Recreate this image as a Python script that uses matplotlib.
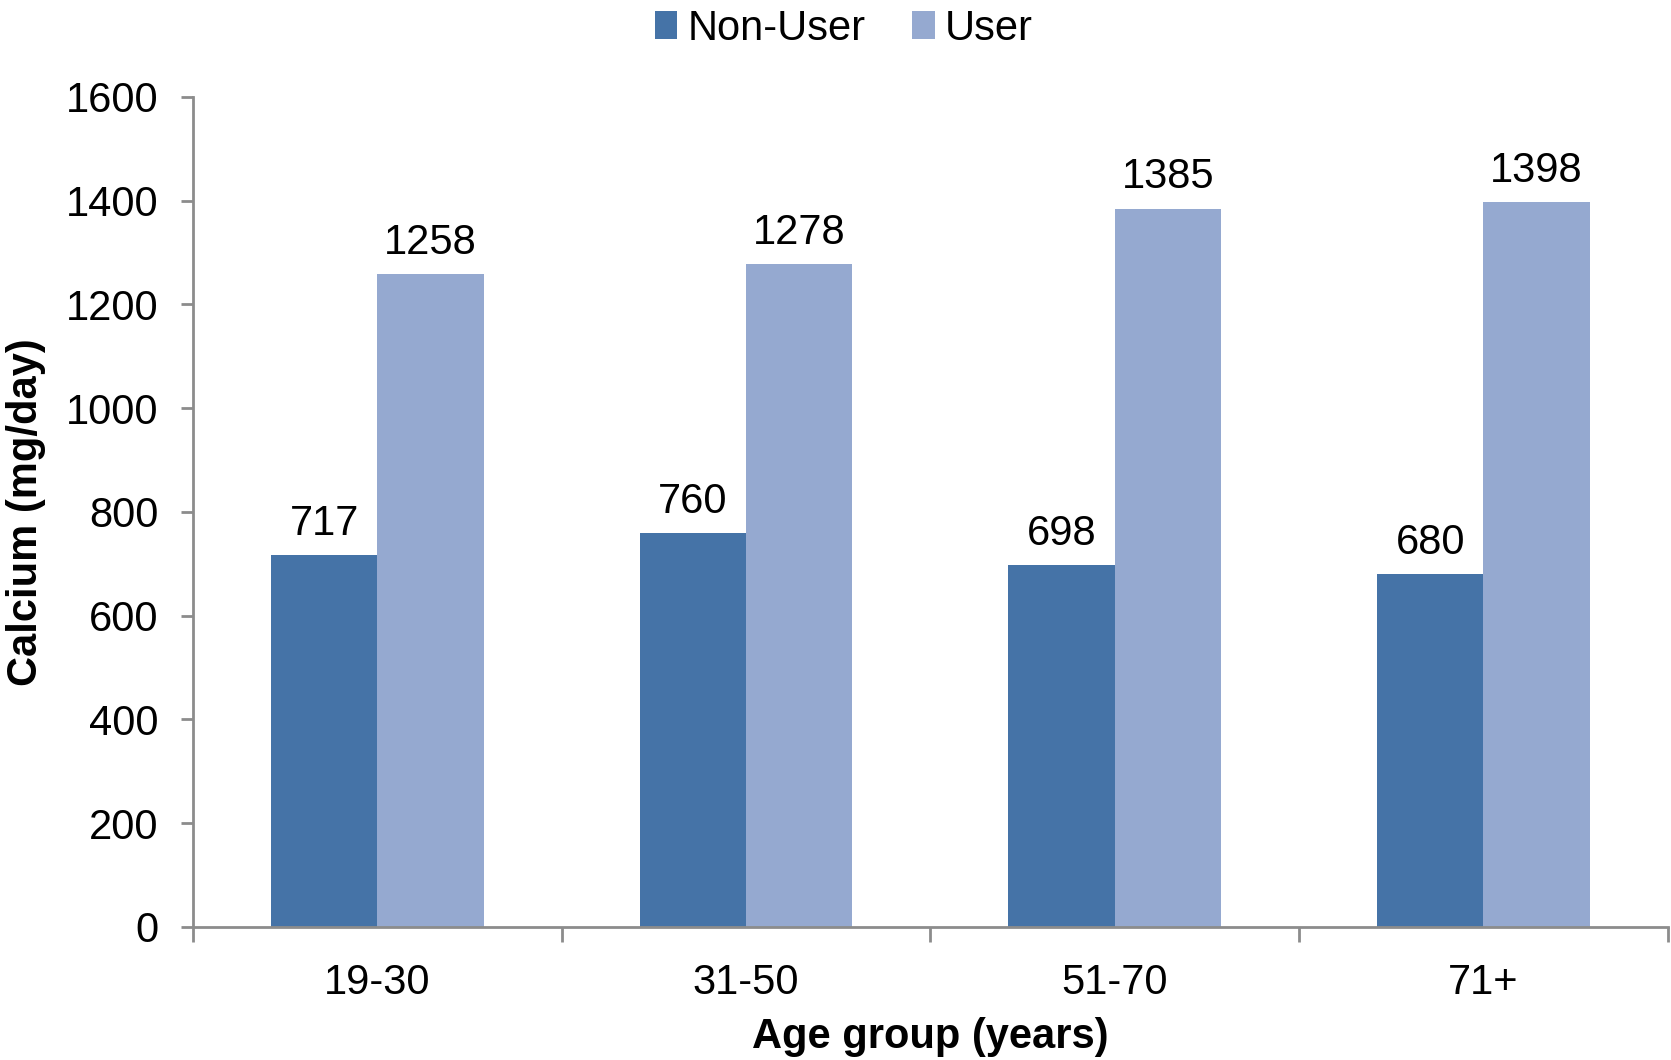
import numpy as np
import matplotlib.pyplot as plt

plt.rcParams['font.family'] = ['Liberation Sans', 'DejaVu Sans']

groups = ['19-30', '31-50', '51-70', '71+']
non_user = [717, 760, 698, 680]
user = [1258, 1278, 1385, 1398]

c_non = '#4573A7'
c_user = '#95A9D0'
grey = '#8C8C8C'
fs = 30

fig = plt.figure(figsize=(16.71, 10.6), dpi=100)
ax = fig.add_axes([0.1155, 0.1255, 0.8825, 0.783])

x = np.arange(len(groups))
w = 0.288
b1 = ax.bar(x - w / 2, non_user, w, color=c_non, label='Non-User')
b2 = ax.bar(x + w / 2, user, w, color=c_user, label='User')

for bars, vals in ((b1, non_user), (b2, user)):
    for bar, v in zip(bars, vals):
        ax.annotate(str(v), (bar.get_x() + bar.get_width() / 2, v),
                    xytext=(0, 8), textcoords='offset points',
                    ha='center', va='bottom', fontsize=fs)

ax.set_xlim(-0.5, 3.5)
ax.set_ylim(0, 1600)
ax.set_yticks(np.arange(0, 1601, 200))
ax.set_xticks(x)
ax.set_xticklabels(groups)
ax.set_xticks(np.arange(-0.5, 3.6, 1), minor=True)

for side in ('top', 'right'):
    ax.spines[side].set_visible(False)
for side in ('left', 'bottom'):
    ax.spines[side].set_color(grey)
    ax.spines[side].set_linewidth(2)

ax.tick_params(axis='y', direction='out', length=9, width=2, color=grey,
               labelsize=fs, pad=16)
ax.tick_params(axis='x', which='major', length=0, labelsize=fs, pad=26)
ax.tick_params(axis='x', which='minor', direction='out', length=11, width=2,
               color=grey)

ax.set_ylabel('Calcium (mg/day)', fontsize=fs, fontweight='bold', labelpad=14)
ax.set_xlabel('Age group (years)', fontsize=fs, fontweight='bold', labelpad=10)

fig.legend(loc='center', bbox_to_anchor=(0.505, 0.973), ncol=2, frameon=False,
           fontsize=fs, handlelength=0.55, handleheight=0.65, handletextpad=0.25,
           columnspacing=1.1)

fig.savefig('out.png', dpi=100)
